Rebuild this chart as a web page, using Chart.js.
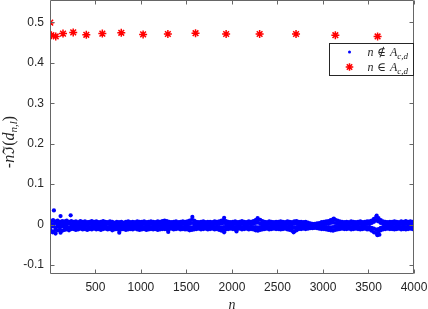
<!DOCTYPE html>
<html>
<head>
<meta charset="utf-8">
<script src="https://cdn.jsdelivr.net/npm/chart.js@4.4.1/dist/chart.umd.min.js"></script>
<style>
  html, body { margin: 0; padding: 0; background: #fff; overflow: hidden; }
  #wrap { width: 428px; height: 309px; position: relative; }
</style>
</head>
<body>
<div id="wrap"><canvas id="c"></canvas></div>
<script>
// tick values
const xTicks = [500, 1000, 1500, 2000, 2500, 3000, 3500, 4000];
const yTicks = [-0.1, 0, 0.1, 0.2, 0.3, 0.4, 0.5];

// n in A_{c,d}  (red stars)
const redN = [4, 16, 64, 144, 256, 400, 576, 784, 1024, 1296, 1600, 1936, 2304, 2704, 3136, 3600];
const redY = [0.499, 0.468, 0.465, 0.472, 0.475, 0.469, 0.472, 0.474, 0.470, 0.471, 0.473, 0.471, 0.471, 0.471, 0.468, 0.465];

// n not in A_{c,d}  (blue dots) - band, 4 levels per column
const blueN = [
  10, 35, 60, 85, 110, 135, 160, 185, 210, 235,
  260, 285, 310, 335, 360, 385, 410, 435, 460, 485,
  510, 535, 560, 585, 610, 635, 660, 685, 710, 735,
  760, 785, 810, 835, 860, 885, 910, 935, 960, 985,
  1010, 1035, 1060, 1085, 1110, 1135, 1160, 1185, 1210, 1235,
  1260, 1285, 1310, 1335, 1360, 1385, 1410, 1435, 1460, 1485,
  1510, 1535, 1560, 1585, 1610, 1635, 1660, 1685, 1710, 1735,
  1760, 1785, 1810, 1835, 1860, 1885, 1910, 1935, 1960, 1985,
  2010, 2035, 2060, 2085, 2110, 2135, 2160, 2185, 2210, 2235,
  2260, 2285, 2310, 2335, 2360, 2385, 2410, 2435, 2460, 2485,
  2510, 2535, 2560, 2585, 2610, 2635, 2660, 2685, 2710, 2735,
  2760, 2785, 2810, 2835, 2860, 2885, 2910, 2935, 2960, 2985,
  3010, 3035, 3060, 3085, 3110, 3135, 3160, 3185, 3210, 3235,
  3260, 3285, 3310, 3335, 3360, 3385, 3410, 3435, 3460, 3485,
  3510, 3535, 3560, 3585, 3610, 3635, 3660, 3685, 3710, 3735,
  3760, 3785, 3810, 3835, 3860, 3885, 3910, 3935, 3960, 3985
];
const blueTop = [
  0.009, 0.011, 0.008, 0.010, 0.007, 0.009, 0.008, 0.010, 0.007, 0.009,
  0.007, 0.008, 0.006, 0.009, 0.007, 0.008, 0.006, 0.007, 0.009, 0.007,
  0.008, 0.006, 0.007, 0.009, 0.007, 0.006, 0.008, 0.007, 0.005, 0.007,
  0.006, 0.007, 0.005, 0.007, 0.008, 0.006, 0.007, 0.006, 0.008, 0.007,
  0.007, 0.008, 0.006, 0.007, 0.008, 0.007, 0.006, 0.008, 0.007, 0.009,
  0.010, 0.009, 0.007, 0.006, 0.007, 0.008, 0.006, 0.007, 0.008, 0.007,
  0.008, 0.010, 0.012, 0.010, 0.007, 0.006, 0.007, 0.008, 0.006, 0.007,
  0.007, 0.006, 0.008, 0.007, 0.008, 0.010, 0.011, 0.009, 0.007, 0.006,
  0.007, 0.008, 0.006, 0.007, 0.009, 0.007, 0.006, 0.008, 0.007, 0.009,
  0.011, 0.013, 0.012, 0.009, 0.007, 0.006, 0.008, 0.007, 0.006, 0.007,
  0.007, 0.008, 0.007, 0.006, 0.008, 0.007, 0.006, 0.008, 0.009, 0.007,
  0.007, 0.006, 0.007, 0.005, 0.003, 0.002, 0.002, 0.003, 0.004, 0.006,
  0.007, 0.008, 0.009, 0.011, 0.013, 0.012, 0.010, 0.008, 0.007, 0.006,
  0.007, 0.006, 0.008, 0.007, 0.006, 0.007, 0.008, 0.006, 0.007, 0.008,
  0.008, 0.010, 0.014, 0.019, 0.016, 0.011, 0.008, 0.007, 0.006, 0.007,
  0.007, 0.008, 0.007, 0.006, 0.008, 0.007, 0.009, 0.007, 0.008, 0.007
];
const blueUpper = [
  0.003, 0.001, 0.004, 0.002, 0.000, 0.003, 0.001, 0.002, 0.003, 0.001,
  0.002, 0.001, 0.002, 0.003, 0.001, 0.002, 0.000, 0.002, 0.003, 0.001,
  0.001, 0.002, 0.000, 0.002, 0.001, 0.003, 0.001, 0.000, 0.002, 0.001,
  0.000, 0.001, -0.001, 0.002, 0.001, 0.000, 0.002, 0.001, 0.002, 0.000,
  0.001, 0.002, 0.000, 0.001, 0.002, 0.001, 0.000, 0.002, 0.001, 0.002,
  0.003, 0.002, 0.001, 0.000, 0.002, 0.001, 0.000, 0.001, 0.002, 0.001,
  0.002, 0.003, 0.004, 0.002, 0.001, 0.000, 0.001, 0.002, 0.000, 0.001,
  0.001, 0.000, 0.002, 0.001, 0.002, 0.003, 0.004, 0.002, 0.001, 0.000,
  0.001, 0.002, 0.000, 0.001, 0.002, 0.001, 0.000, 0.002, 0.001, 0.003,
  0.004, 0.005, 0.003, 0.002, 0.001, 0.000, 0.002, 0.001, 0.000, 0.001,
  0.001, 0.002, 0.001, 0.000, 0.002, 0.001, 0.000, 0.002, 0.002, 0.001,
  0.001, 0.000, 0.001, 0.000, -0.001, -0.002, -0.002, -0.001, 0.000, 0.001,
  0.001, 0.002, 0.003, 0.004, 0.005, 0.004, 0.002, 0.001, 0.000, 0.001,
  0.001, 0.000, 0.002, 0.001, 0.000, 0.001, 0.002, 0.000, 0.001, 0.002,
  0.002, 0.004, 0.007, 0.010, 0.008, 0.004, 0.002, 0.001, 0.000, 0.001,
  0.001, 0.002, 0.001, 0.000, 0.002, 0.001, 0.002, 0.001, 0.002, 0.001
];
const blueLower = [
  -0.006, -0.004, -0.007, -0.005, -0.006, -0.004, -0.006, -0.005, -0.007, -0.005,
  -0.005, -0.006, -0.004, -0.005, -0.006, -0.005, -0.004, -0.006, -0.005, -0.004,
  -0.005, -0.004, -0.006, -0.005, -0.004, -0.006, -0.005, -0.007, -0.005, -0.004,
  -0.006, -0.005, -0.007, -0.005, -0.006, -0.005, -0.004, -0.006, -0.005, -0.006,
  -0.005, -0.006, -0.005, -0.004, -0.006, -0.005, -0.006, -0.005, -0.004, -0.005,
  -0.004, -0.005, -0.006, -0.005, -0.004, -0.006, -0.005, -0.004, -0.006, -0.005,
  -0.005, -0.006, -0.007, -0.005, -0.004, -0.006, -0.005, -0.004, -0.005, -0.006,
  -0.005, -0.004, -0.006, -0.005, -0.006, -0.007, -0.006, -0.005, -0.004, -0.005,
  -0.005, -0.006, -0.004, -0.005, -0.006, -0.005, -0.004, -0.006, -0.005, -0.006,
  -0.006, -0.007, -0.006, -0.005, -0.004, -0.005, -0.006, -0.005, -0.004, -0.005,
  -0.005, -0.004, -0.006, -0.005, -0.006, -0.005, -0.007, -0.008, -0.007, -0.005,
  -0.005, -0.004, -0.005, -0.006, -0.006, -0.007, -0.007, -0.006, -0.005, -0.005,
  -0.005, -0.006, -0.006, -0.007, -0.006, -0.005, -0.006, -0.005, -0.004, -0.005,
  -0.005, -0.004, -0.006, -0.005, -0.004, -0.005, -0.006, -0.005, -0.004, -0.006,
  -0.006, -0.008, -0.010, -0.012, -0.011, -0.008, -0.006, -0.005, -0.004, -0.005,
  -0.005, -0.006, -0.005, -0.004, -0.006, -0.005, -0.006, -0.005, -0.004, -0.005
];
const blueBottom = [
  -0.015, -0.017, -0.013, -0.014, -0.012, -0.015, -0.013, -0.012, -0.014, -0.011,
  -0.011, -0.013, -0.012, -0.010, -0.012, -0.011, -0.013, -0.011, -0.012, -0.010,
  -0.012, -0.011, -0.013, -0.011, -0.010, -0.012, -0.011, -0.014, -0.012, -0.011,
  -0.013, -0.012, -0.011, -0.013, -0.012, -0.011, -0.012, -0.010, -0.012, -0.013,
  -0.012, -0.011, -0.013, -0.012, -0.011, -0.012, -0.011, -0.013, -0.012, -0.011,
  -0.011, -0.012, -0.011, -0.010, -0.012, -0.011, -0.010, -0.012, -0.011, -0.012,
  -0.012, -0.014, -0.013, -0.012, -0.011, -0.010, -0.012, -0.011, -0.010, -0.012,
  -0.011, -0.010, -0.012, -0.011, -0.013, -0.015, -0.014, -0.012, -0.011, -0.010,
  -0.011, -0.012, -0.011, -0.010, -0.012, -0.011, -0.010, -0.012, -0.011, -0.012,
  -0.014, -0.015, -0.013, -0.012, -0.011, -0.010, -0.012, -0.011, -0.010, -0.011,
  -0.011, -0.012, -0.011, -0.010, -0.012, -0.013, -0.015, -0.017, -0.014, -0.011,
  -0.011, -0.010, -0.011, -0.010, -0.009, -0.009, -0.008, -0.009, -0.010, -0.011,
  -0.011, -0.012, -0.013, -0.014, -0.015, -0.013, -0.012, -0.011, -0.010, -0.011,
  -0.011, -0.010, -0.012, -0.011, -0.010, -0.011, -0.012, -0.011, -0.010, -0.012,
  -0.012, -0.015, -0.019, -0.021, -0.018, -0.014, -0.012, -0.011, -0.010, -0.011,
  -0.011, -0.012, -0.011, -0.010, -0.012, -0.011, -0.012, -0.011, -0.010, -0.011
];
// stray blue dots outside the band
const blueOutN = [30, 44, 62, 117, 117, 228, 762, 1300, 1565, 1914, 1914, 2050, 2282, 2677, 3119, 3590, 3598, 3620];
const blueOutY = [-0.019, 0.035, -0.022, 0.021, -0.020, 0.023, -0.020, -0.018, 0.019, 0.017, -0.019, -0.017, 0.016, -0.019, 0.015, 0.022, -0.026, -0.025];

const bluePoints = [];
[blueTop, blueUpper, blueLower, blueBottom].forEach((lvl) => {
  lvl.forEach((v, i) => bluePoints.push({ x: blueN[i], y: v }));
});
blueOutN.forEach((n, i) => bluePoints.push({ x: n, y: blueOutY[i] }));
const redPoints = redN.map((n, i) => ({ x: n, y: redY[i] }));

const AXIS = '#666666';
const TXT = '#262626';
const SERIF = '"Liberation Serif", "DejaVu Serif", serif';

function runsWidth(ctx, runs) {
  let w = 0;
  runs.forEach((r) => { ctx.font = r.f; r.w = ctx.measureText(r.t).width; w += r.w; });
  return w;
}
function drawRuns(ctx, runs, x, y) {
  runs.forEach((r) => {
    ctx.font = r.f;
    ctx.fillText(r.t, x, y + (r.dy || 0));
    x += r.w;
  });
}

const axesFrame = {
  id: 'axesFrame',
  afterDatasetsDraw(chart) {
    const { ctx, chartArea: a, scales: { x, y } } = chart;
    const L = Math.round(a.left) + 0.5, R = Math.round(a.right) - 0.5;
    const T = Math.round(a.top) + 0.5, B = Math.round(a.bottom) - 0.5;
    ctx.save();
    ctx.strokeStyle = AXIS;
    ctx.lineWidth = 1;
    ctx.beginPath();
    ctx.moveTo(L, T); ctx.lineTo(R, T); ctx.lineTo(R, B); ctx.lineTo(L, B); ctx.closePath();
    xTicks.forEach((v) => {
      const px = Math.round(x.getPixelForValue(v)) + 0.5;
      ctx.moveTo(px, B); ctx.lineTo(px, B - 4);
      ctx.moveTo(px, T); ctx.lineTo(px, T + 4);
    });
    yTicks.forEach((v) => {
      const py = Math.round(y.getPixelForValue(v)) + 0.5;
      ctx.moveTo(L, py); ctx.lineTo(L + 4, py);
      ctx.moveTo(R, py); ctx.lineTo(R - 4, py);
    });
    ctx.stroke();

    // y label  -nℑ(d_{n,l})
    const fs = 16;
    const runs = [
      { t: '-', f: fs + 'px "Liberation Sans", sans-serif' },
      { t: 'n', f: 'italic ' + fs + 'px ' + SERIF },
      { t: 'ℑ', f: fs + 'px "DejaVu Serif", serif' },
      { t: '(', f: fs + 'px ' + SERIF },
      { t: 'd', f: 'italic ' + fs + 'px ' + SERIF },
      { t: 'n,l', f: 'italic 11px ' + SERIF, dy: 4 },
      { t: ')', f: fs + 'px ' + SERIF }
    ];
    const w = runsWidth(ctx, runs);
    ctx.translate(10, (a.top + a.bottom) / 2 + 5);
    ctx.rotate(-Math.PI / 2);
    ctx.fillStyle = TXT;
    ctx.textBaseline = 'middle';
    drawRuns(ctx, runs, -w / 2, 0);
    ctx.restore();

    // legend box
    ctx.save();
    const bx = R - 84, by = T + 43, bw = 84, bh = 32;
    ctx.fillStyle = '#fff';
    ctx.fillRect(bx, by, bw, bh);
    ctx.strokeStyle = TXT;
    ctx.lineWidth = 1;
    ctx.strokeRect(bx, by, bw, bh);
    const mx = bx + 20;
    const r1 = by + 8.5, r2 = by + 23.5;
    ctx.fillStyle = '#0000ff';
    ctx.beginPath(); ctx.arc(mx, r1, 1.5, 0, Math.PI * 2); ctx.fill();
    ctx.strokeStyle = '#ff0000';
    ctx.lineWidth = 1.5;
    ctx.beginPath();
    const s = 3.8, d = s * Math.SQRT1_2;
    ctx.moveTo(mx - s, r2); ctx.lineTo(mx + s, r2);
    ctx.moveTo(mx, r2 - s); ctx.lineTo(mx, r2 + s);
    ctx.moveTo(mx - d, r2 - d); ctx.lineTo(mx + d, r2 + d);
    ctx.moveTo(mx - d, r2 + d); ctx.lineTo(mx + d, r2 - d);
    ctx.stroke();
    ctx.fillStyle = TXT;
    ctx.textBaseline = 'alphabetic';
    const tx = bx + 38;
    [['∉', r1], ['∈', r2]].forEach(([rel, ry]) => {
      const lr = [
        { t: 'n', f: 'italic 12px ' + SERIF },
        { t: ' ' + rel + ' ', f: '12px "DejaVu Serif", serif' },
        { t: 'A', f: 'italic 12px ' + SERIF },
        { t: 'c,d', f: 'italic 9px ' + SERIF, dy: 2.5 }
      ];
      runsWidth(ctx, lr);
      drawRuns(ctx, lr, tx, ry + 4);
    });
    ctx.restore();
  }
};

new Chart(document.getElementById('c'), {
  type: 'scatter',
  data: {
    datasets: [
      {
        label: 'n ∉ A_{c,d}',
        data: bluePoints,
        pointStyle: 'circle',
        pointRadius: 2.1,
        pointBorderWidth: 0,
        pointBackgroundColor: '#0000ff',
        backgroundColor: '#0000ff'
      },
      {
        label: 'n ∈ A_{c,d}',
        data: redPoints,
        pointStyle: 'star',
        pointRadius: 4,
        pointBorderWidth: 1.5,
        pointBorderColor: '#ff0000',
        pointBackgroundColor: '#ff0000'
      }
    ]
  },
  options: {
    responsive: true,
    maintainAspectRatio: false,
    animation: false,
    events: [],
    layout: { autoPadding: false, padding: { left: 0, right: 14, top: 0, bottom: 0 } },
    plugins: { legend: { display: false }, tooltip: { enabled: false } },
    scales: {
      x: {
        type: 'linear',
        min: 1,
        max: 4000,
        grid: { display: false, drawTicks: false },
        border: { display: false },
        afterBuildTicks: (s) => { s.ticks = xTicks.map((v) => ({ value: v })); },
        afterFit: (s) => { s.height = 35; s.paddingLeft = 0; s.paddingRight = 0; },
        ticks: {
          padding: 6,
          color: TXT,
          maxRotation: 0,
          font: { family: '"Liberation Sans", Arial, sans-serif', size: 12 },
          callback: (v) => String(v)
        },
        title: {
          display: true,
          text: 'n',
          color: TXT,
          padding: { top: 0, bottom: 0 },
          font: { family: SERIF, style: 'italic', size: 14, lineHeight: 0.55 }
        }
      },
      y: {
        type: 'linear',
        min: -0.122,
        max: 0.555,
        grid: { display: false, drawTicks: false },
        border: { display: false },
        afterBuildTicks: (s) => { s.ticks = yTicks.map((v) => ({ value: v })); },
        afterFit: (s) => { s.width = 50; s.paddingTop = 0; s.paddingBottom = 0; },
        ticks: {
          padding: 6,
          color: TXT,
          font: { family: '"Liberation Sans", Arial, sans-serif', size: 12 },
          callback: (v) => String(Number(v.toFixed(2)))
        }
      }
    }
  },
  plugins: [axesFrame]
});
</script>
</body>
</html>
